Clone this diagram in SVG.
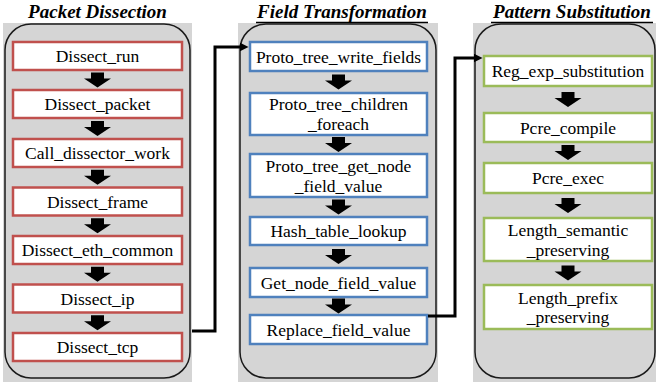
<svg xmlns="http://www.w3.org/2000/svg" xmlns:xlink="http://www.w3.org/1999/xlink" width="656" height="385" viewBox="0 0 656 385">
  <style>
    .title { font-size: 19px; font-weight: bold; font-style: italic; fill: #000; text-anchor: middle; }
    .uline { stroke: #000; stroke-width: 1.3; }
    .panel-bg { fill: #d5d5d5; }
    .panel { fill: none; stroke: #1a1a1a; stroke-width: 1.5; }
    .box { fill: #fff; stroke-width: 2.5; }
    .red { stroke: #c0504d; }
    .blue { stroke: #4f81bd; }
    .green { stroke: #9bbb59; }
    .lbl { font-size: 17.5px; fill: #000; text-anchor: middle; }
    .link { fill: none; stroke: #000; stroke-width: 3; stroke-linejoin: miter; }
    .step { fill: #000; }
  </style>
  <defs>
    <!-- block arrow between consecutive steps, origin at top centre -->
    <path id="dn" class="step" d="M-6.5,0 H6.5 V6 H13.5 L0,15 L-13.5,6 H-6.5 Z"/>
    <marker id="head" viewBox="0 0 10 10" refX="4.4" refY="5" markerWidth="9" markerHeight="9" markerUnits="userSpaceOnUse" orient="auto">
      <path d="M0,0 L10,5 L0,10 Z" fill="#000"/>
    </marker>
  </defs>

  <!-- Panel backgrounds -->
  <g id="panel-dissection">
    <rect class="panel-bg" x="3" y="23" width="189" height="359"/>
    <rect class="panel" x="5" y="24" width="185" height="354" rx="26" ry="26"/>
  </g>
  <g id="panel-transformation">
    <rect class="panel-bg" x="238" y="23" width="200" height="359"/>
    <rect class="panel" x="240" y="24" width="196" height="354" rx="26" ry="26"/>
  </g>
  <g id="panel-substitution">
    <rect class="panel-bg" x="473" y="23" width="183" height="359"/>
    <rect class="panel" x="475" y="24" width="180" height="354" rx="26" ry="26"/>
  </g>

  <g font-family="Liberation Serif, serif">
    <!-- Titles -->
    <text class="title" x="97.5" y="18">Packet Dissection</text>
    <text class="title" x="342" y="18">Field Transformation</text>
    <line class="uline" x1="256" y1="22.5" x2="428" y2="22.5"/>
    <text class="title" x="572" y="18">Pattern Substitution</text>
    <line class="uline" x1="491" y1="22.5" x2="653" y2="22.5"/>

    <!-- Packet Dissection steps -->
    <g id="dissect-run"><rect class="box red" x="13" y="42" width="169" height="28"/><text class="lbl" x="97.5" y="62">Dissect_run</text></g>
    <g id="dissect-packet"><rect class="box red" x="13" y="90" width="169" height="28"/><text class="lbl" x="97.5" y="110">Dissect_packet</text></g>
    <g id="call-dissector-work"><rect class="box red" x="13" y="139" width="169" height="28"/><text class="lbl" x="97.5" y="159">Call_dissector_work</text></g>
    <g id="dissect-frame"><rect class="box red" x="13" y="187.5" width="169" height="28"/><text class="lbl" x="97.5" y="207.5">Dissect_frame</text></g>
    <g id="dissect-eth-common"><rect class="box red" x="13" y="236" width="169" height="28"/><text class="lbl" x="97.5" y="256">Dissect_eth_common</text></g>
    <g id="dissect-ip"><rect class="box red" x="13" y="284.5" width="169" height="28"/><text class="lbl" x="97.5" y="304.5">Dissect_ip</text></g>
    <g id="dissect-tcp"><rect class="box red" x="13" y="333" width="169" height="28"/><text class="lbl" x="97.5" y="353">Dissect_tcp</text></g>

    <!-- Field Transformation steps -->
    <g id="proto-tree-write-fields"><rect class="box blue" x="250" y="42" width="177" height="29"/><text class="lbl" x="338.5" y="62.5">Proto_tree_write_fields</text></g>
    <g id="proto-tree-children-foreach"><rect class="box blue" x="250" y="93" width="177" height="42"/><text class="lbl" x="338.5" y="110">Proto_tree_children</text><text class="lbl" x="338.5" y="129.5">_foreach</text></g>
    <g id="proto-tree-get-node-field-value"><rect class="box blue" x="250" y="154" width="177" height="43"/><text class="lbl" x="338.5" y="172">Proto_tree_get_node</text><text class="lbl" x="338.5" y="191.5">_field_value</text></g>
    <g id="hash-table-lookup"><rect class="box blue" x="250" y="217" width="177" height="28"/><text class="lbl" x="338.5" y="237">Hash_table_lookup</text></g>
    <g id="get-node-field-value"><rect class="box blue" x="250" y="268" width="177" height="29"/><text class="lbl" x="338.5" y="288.5">Get_node_field_value</text></g>
    <g id="replace-field-value"><rect class="box blue" x="250" y="315" width="177" height="29"/><text class="lbl" x="338.5" y="335.5">Replace_field_value</text></g>

    <!-- Pattern Substitution steps -->
    <g id="reg-exp-substitution"><rect class="box green" x="484" y="56" width="168" height="30"/><text class="lbl" x="568" y="77">Reg_exp_substitution</text></g>
    <g id="pcre-compile"><rect class="box green" x="484" y="113" width="168" height="29"/><text class="lbl" x="568" y="133.5">Pcre_compile</text></g>
    <g id="pcre-exec"><rect class="box green" x="484" y="163" width="168" height="30"/><text class="lbl" x="568" y="184">Pcre_exec</text></g>
    <g id="length-semantic-preserving"><rect class="box green" x="484" y="218" width="168" height="43"/><text class="lbl" x="568" y="236">Length_semantic</text><text class="lbl" x="568" y="255.5">_preserving</text></g>
    <g id="length-prefix-preserving"><rect class="box green" x="484" y="285" width="168" height="44"/><text class="lbl" x="568" y="303.5">Length_prefix</text><text class="lbl" x="568" y="323">_preserving</text></g>
  </g>

  <!-- Connectors -->
  <g id="connectors">
    <use xlink:href="#dn" x="97.5" y="72.5"/>
    <use xlink:href="#dn" x="97.5" y="121"/>
    <use xlink:href="#dn" x="97.5" y="169.75"/>
    <use xlink:href="#dn" x="97.5" y="218.25"/>
    <use xlink:href="#dn" x="97.5" y="266.75"/>
    <use xlink:href="#dn" x="97.5" y="315.25"/>

    <use xlink:href="#dn" x="338.5" y="74.5"/>
    <use xlink:href="#dn" x="338.5" y="137"/>
    <use xlink:href="#dn" x="338.5" y="199.5"/>
    <use xlink:href="#dn" x="338.5" y="249"/>
    <use xlink:href="#dn" x="338.5" y="298.5"/>

    <use xlink:href="#dn" x="568" y="92"/>
    <use xlink:href="#dn" x="568" y="145"/>
    <use xlink:href="#dn" x="568" y="198"/>
    <use xlink:href="#dn" x="568" y="265.5"/>

    <path class="link" d="M192,331 H215 V47 H243.5" marker-end="url(#head)"/>
    <path class="link" d="M428,316 H455 V58 H477.5" marker-end="url(#head)"/>
  </g>
</svg>
